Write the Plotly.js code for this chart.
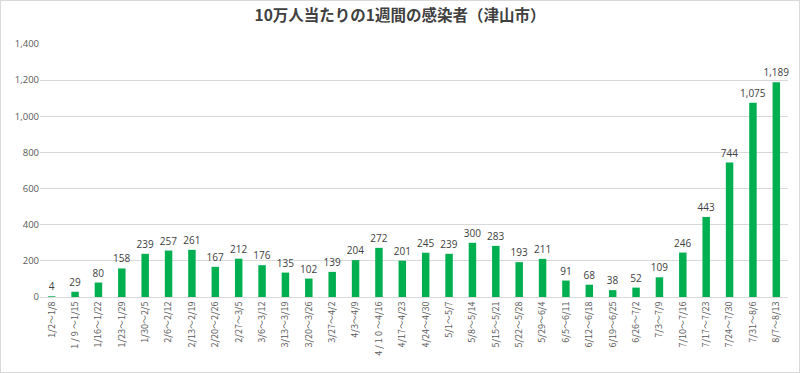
<!DOCTYPE html>
<html><head><meta charset="utf-8">
<script src="https://cdn.plot.ly/plotly-3.0.1.min.js"></script>
<style>
html,body{margin:0;padding:0;background:#fff;}
#wrap{width:800px;height:373px;box-sizing:border-box;border:1px solid #d9d9d9;}
#chart{width:798px;height:371px;}
</style></head>
<body><div id="wrap"><div id="chart"></div></div>
<script>
const categories = ["1/2～1/8","1 / 9 ～1/15","1/16～1/22","1/23～1/29","1/30～2/5","2/6～2/12","2/13～2/19","2/20～2/26","2/27～3/5","3/6～3/12","3/13～3/19","3/20～3/26","3/27～4/2","4/3～4/9","4 / 1 0 ～4/16","4/17～4/23","4/24～4/30","5/1～5/7","5/8～5/14","5/15～5/21","5/22～5/28","5/29～6/4","6/5～6/11","6/12～6/18","6/19～6/25","6/26～7/2","7/3～7/9","7/10～7/16","7/17～7/23","7/24～7/30","7/31～8/6","8/7～8/13"];
const values = [4,29,80,158,239,257,261,167,212,176,135,102,139,204,272,201,245,239,300,283,193,211,91,68,38,52,109,246,443,744,1075,1189];
const yTicks = [0,200,400,600,800,1000,1200,1400];

const fmt = v => v.toLocaleString('en-US');

Plotly.newPlot('chart', [{
  type:'bar',
  x: categories,
  y: values,
  marker:{color:'#00b050'},
  text: values.map(fmt),
  textposition:'outside',
  constraintext:'none',
  textfont:{family:'"Open Sans", "Liberation Sans", sans-serif', size:10, color:'#404040'},
  cliponaxis:false,
  hoverinfo:'none'
}], {
  width:798, height:371,
  margin:{l:39, r:11, t:43, b:75},
  paper_bgcolor:'#fff', plot_bgcolor:'#fff',
  bargap:0.68,
  showlegend:false,
  title:{text:'<b>10万人当たりの1週間の感染者（津山市）</b>', x:0.5, xanchor:'center', y:0.96, yanchor:'middle',
    font:{family:'"Noto Sans CJK JP", sans-serif', size:15.5, color:'#404040'}},
  xaxis:{
    type:'category',
    tickangle:-90,
    tickfont:{family:'"Noto Sans CJK JP", "Open Sans", sans-serif', size:9, color:'#595959'},
    showline:true, linecolor:'#d9d9d9', linewidth:1,
    ticks:'', showgrid:false, automargin:false
  },
  yaxis:{
    range:[0,1400],
    tickvals:yTicks,
    ticktext:yTicks.map(fmt),
    tickfont:{family:'"Open Sans", "Liberation Sans", sans-serif', size:9.5, color:'#595959'},
    gridcolor:'#d9d9d9', gridwidth:1,
    zeroline:false, showline:false, ticks:'', automargin:false
  }
}, {staticPlot:true, displayModeBar:false});
</script></body></html>
